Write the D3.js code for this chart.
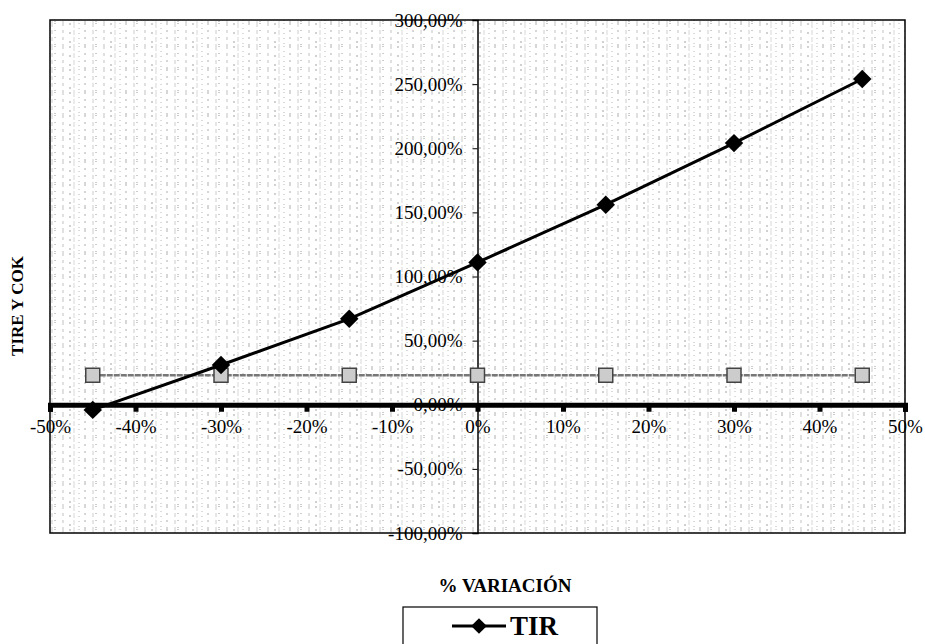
<!DOCTYPE html>
<html>
<head>
<meta charset="utf-8">
<script src="https://cdn.jsdelivr.net/npm/d3@7"></script>
<style>
  body { margin: 0; background: #fff; }
</style>
</head>
<body>
<div id="chart"></div>
<script>
// Data
const variation = [-45, -30, -15, 0, 15, 30, 45];
const tir = [-4, 31, 67, 111, 156, 204, 254];
const cok = [23, 23, 23, 23, 23, 23, 23];
const xTickValues = [-50, -40, -30, -20, -10, 0, 10, 20, 30, 40, 50];
const yTickValues = [-100, -50, 0, 50, 100, 150, 200, 250, 300];

// Configuration
const W = 925, H = 644;
const plot = { left: 50, right: 905, top: 20, bottom: 533 };
const serif = "'Liberation Serif', 'Times New Roman', 'DejaVu Serif', serif";

const svg = d3.select("#chart")
    .append("svg")
    .attr("width", W)
    .attr("height", H)
    .style("font-family", serif);

svg.append("rect").attr("width", W).attr("height", H).attr("fill", "#fff");

// Scales
const x = d3.scaleLinear().domain([-50, 50]).range([plot.left, plot.right]);
const y = d3.scaleLinear().domain([-100, 300]).range([plot.bottom, plot.top]);

// Scanned-paper texture: repeating tile of broken vertical strokes
const defs = svg.append("defs");
const pat = defs.append("pattern")
    .attr("id", "scan")
    .attr("patternUnits", "userSpaceOnUse")
    .attr("width", 41)
    .attr("height", 23);
[[3, "#777", "2,5"], [11, "#aaa", "4,3"], [14, "#555", "1,6"], [22, "#999", "3,4"],
 [29, "#666", "2,7"], [33, "#bbb", "5,2"], [38, "#888", "1,4"]].forEach(([px, c, dash]) => {
    pat.append("line")
        .attr("x1", px).attr("x2", px)
        .attr("y1", 0).attr("y2", 23)
        .attr("stroke", c)
        .attr("stroke-width", 1)
        .attr("stroke-dasharray", dash);
});

svg.append("rect")
    .attr("x", plot.left)
    .attr("y", plot.top)
    .attr("width", plot.right - plot.left)
    .attr("height", plot.bottom - plot.top)
    .attr("fill", "url(#scan)")
    .attr("opacity", 0.6);

// Plot frame
svg.append("rect")
    .attr("x", plot.left)
    .attr("y", plot.top)
    .attr("width", plot.right - plot.left)
    .attr("height", plot.bottom - plot.top)
    .attr("fill", "none")
    .attr("stroke", "#000")
    .attr("stroke-width", 1.5);

// Y axis through x = 0
const yAxis = svg.append("g")
    .attr("transform", `translate(${x(0)},0)`)
    .call(d3.axisLeft(y)
        .tickValues(yTickValues)
        .tickSize(5)
        .tickPadding(10)
        .tickFormat(d => d.toFixed(2).replace(".", ",") + "%"));
yAxis.attr("font-family", null);
yAxis.select(".domain").attr("stroke", "#000").attr("stroke-width", 1.5);
yAxis.selectAll("text")
    .style("font-family", serif)
    .style("font-size", "19px")
    .attr("fill", "#000");

// X axis through y = 0
const xAxis = svg.append("g")
    .attr("transform", `translate(0,${y(0)})`)
    .call(d3.axisBottom(x)
        .tickValues(xTickValues)
        .tickSize(7)
        .tickPadding(8)
        .tickFormat(d => d + "%"));
xAxis.attr("font-family", null);
xAxis.select(".domain").attr("stroke", "#000").attr("stroke-width", 5);
xAxis.selectAll(".tick line").attr("stroke", "#000").attr("stroke-width", 5);
xAxis.selectAll("text")
    .style("font-family", serif)
    .style("font-size", "19px")
    .attr("fill", "#000");

// COK series
const cokData = variation.map((v, i) => ({ v, val: cok[i] }));
svg.append("path")
    .datum(cokData)
    .attr("fill", "none")
    .attr("stroke", "#777")
    .attr("stroke-width", 2.5)
    .attr("stroke-dasharray", "6,1")
    .attr("d", d3.line().x(d => x(d.v)).y(d => y(d.val)));
svg.selectAll(".cok")
    .data(cokData)
    .join("rect")
    .attr("class", "cok")
    .attr("x", d => x(d.v) - 7)
    .attr("y", d => y(d.val) - 7)
    .attr("width", 14)
    .attr("height", 14)
    .attr("fill", "#ccc")
    .attr("stroke", "#444")
    .attr("stroke-width", 1.5);

// TIR series
const tirData = variation.map((v, i) => ({ v, val: tir[i] }));
svg.append("path")
    .datum(tirData)
    .attr("fill", "none")
    .attr("stroke", "#000")
    .attr("stroke-width", 3)
    .attr("d", d3.line().x(d => x(d.v)).y(d => y(d.val)));
const diamond = d3.symbol().type(d3.symbolSquare).size(170);
svg.selectAll(".tir")
    .data(tirData)
    .join("path")
    .attr("class", "tir")
    .attr("transform", d => `translate(${x(d.v)},${y(d.val)}) rotate(45)`)
    .attr("d", diamond)
    .attr("fill", "#000");

// Axis titles
svg.append("text")
    .attr("x", 505)
    .attr("y", 592)
    .attr("text-anchor", "middle")
    .style("font-size", "19px")
    .style("font-weight", "bold")
    .text("% VARIACIÓN");

svg.append("text")
    .attr("transform", `translate(23,306) rotate(-90)`)
    .attr("text-anchor", "middle")
    .style("font-size", "17px")
    .style("font-weight", "bold")
    .text("TIRE Y COK");

// Legend
const legend = svg.append("g");
legend.append("rect")
    .attr("x", 403)
    .attr("y", 607)
    .attr("width", 194)
    .attr("height", 60)
    .attr("fill", "#fff")
    .attr("stroke", "#000")
    .attr("stroke-width", 1.2);
legend.append("line")
    .attr("x1", 452).attr("x2", 506)
    .attr("y1", 626).attr("y2", 626)
    .attr("stroke", "#000")
    .attr("stroke-width", 3);
legend.append("path")
    .attr("transform", "translate(479,626) rotate(45) scale(0.85)")
    .attr("d", diamond)
    .attr("fill", "#000");
legend.append("text")
    .attr("x", 510)
    .attr("y", 635)
    .style("font-size", "27px")
    .style("font-weight", "bold")
    .text("TIR");
</script>
</body>
</html>
